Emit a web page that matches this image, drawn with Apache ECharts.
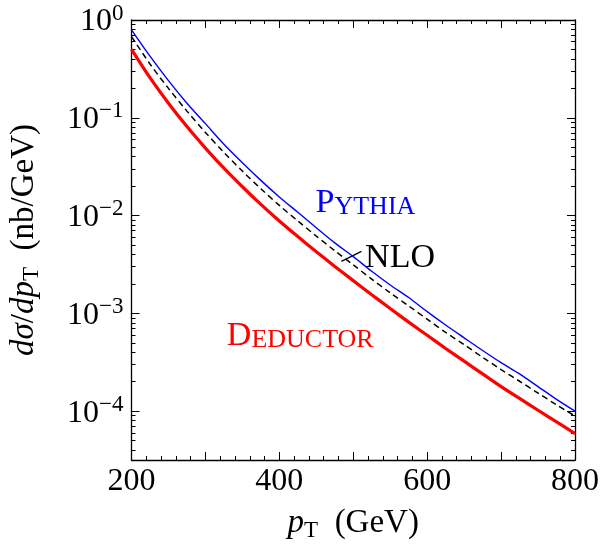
<!DOCTYPE html>
<html>
<head>
<meta charset="utf-8">
<script src="https://cdn.jsdelivr.net/npm/echarts@6/dist/echarts.min.js"></script>
<style>html,body{margin:0;padding:0;background:#fff}#c{width:603px;height:547px}</style>
</head>
<body>
<div id="c"></div>
<script>
// ---- data ----
var pT = [200,225,250,275,300,325,350,375,400,425,450,475,500,525,550,575,600,625,650,675,700,725,750,775,800];
var pythia = [0.794,0.427,0.240,0.141,0.0871,0.0537,0.0347,0.0229,0.0155,0.0108,0.00750,0.00525,0.00380,0.00269,0.00195,0.00145,0.00104,0.000759,0.000562,0.000417,0.000313,0.000240,0.000178,0.000132,0.000100];
var nlo = [0.676,0.355,0.200,0.117,0.0708,0.0442,0.0285,0.0188,0.0127,0.00881,0.00617,0.00437,0.00313,0.00224,0.00162,0.00119,0.000871,0.000638,0.000479,0.000355,0.000266,0.000202,0.000153,0.000116,0.0000891];
var deductor = [0.501,0.257,0.141,0.0813,0.0490,0.0305,0.0197,0.0130,0.00881,0.00610,0.00427,0.00302,0.00216,0.00155,0.00112,0.000813,0.000596,0.000437,0.000324,0.000240,0.000178,0.000135,0.000102,0.0000776,0.0000589];
var xTickLabels = [200,400,600,800];
var yMajor = [1e-4,1e-3,1e-2,1e-1,1];
var yMinor = [4e-5,5e-5,6e-5,7e-5,8e-5,9e-5,
  2e-4,3e-4,4e-4,5e-4,6e-4,7e-4,8e-4,9e-4,
  2e-3,3e-3,4e-3,5e-3,6e-3,7e-3,8e-3,9e-3,
  2e-2,3e-2,4e-2,5e-2,6e-2,7e-2,8e-2,9e-2,
  0.2,0.3,0.4,0.5,0.6,0.7,0.8,0.9];
// label anchors (left edge, vertical middle) in data coordinates
var labelPythia = [449, 0.0138];
var labelDeductor = [329, 0.00060];
var labelNLO = [516, 0.0037];
var nloPointer = [[484, 0.0034],[511, 0.0043]];

var FONT = '"Liberation Serif", "DejaVu Serif", serif';
var chart = echarts.init(document.getElementById('c'), null, {renderer:'canvas'});
function zip(x, y){ return x.map(function(v,i){return [v,y[i]];}); }
function sup(v){
  var e = Math.round(Math.log10(v));
  return '{b|10}{s|' + (e < 0 ? '\u2212' + (-e) : e) + '}';
}
var lineStyleAxis = {color:'#000', width:1.3};
var xBase = {
  type:'value', min:200, max:800, interval:100,
  axisLine:{show:true, lineStyle:lineStyleAxis, onZero:false},
  axisTick:{show:true, inside:true, length:8, lineStyle:{color:'#000', width:1}},
  minorTick:{show:true, splitNumber:5, length:4, lineStyle:{color:'#000', width:1}},
  splitLine:{show:false}
};
var yBase = {
  type:'log', logBase:10, min:Math.pow(10,-4.5), max:1,
  axisLine:{show:true, lineStyle:lineStyleAxis, onZero:false},
  splitLine:{show:false}, minorTick:{show:false}
};
var titleRich = {
  i:{fontFamily:FONT, fontStyle:'italic', fontSize:33, color:'#000', lineHeight:38},
  sub:{fontFamily:FONT, fontSize:23, color:'#000', verticalAlign:'bottom', lineHeight:26},
  r:{fontFamily:FONT, fontSize:33, color:'#000', lineHeight:38}
};
chart.setOption({
  animation:false,
  backgroundColor:'#fff',
  grid:{left:126, right:28, top:20, bottom:77, containLabel:false},
  xAxis:[
    Object.assign({}, xBase, {position:'bottom',
      name:'{i|p}{sub|T}{r|  (GeV)}', nameLocation:'middle', nameGap:44,
      nameTextStyle:{fontFamily:FONT, color:'#000', rich:titleRich},
      axisLabel:{show:true, customValues:xTickLabels, margin:6, fontFamily:FONT, fontSize:32, color:'#000'}}),
    Object.assign({}, xBase, {position:'top', axisLabel:{show:false}})
  ],
  yAxis:[
    Object.assign({}, yBase, {position:'left',
      name:'{i|d\u03C3}{r|/}{i|dp}{sub|T}{r|  (nb/GeV)}', nameLocation:'middle', nameGap:88, nameRotate:90,
      nameTextStyle:{fontFamily:FONT, color:'#000', rich:titleRich},
      axisTick:{show:true, inside:true, length:8, customValues:yMajor, lineStyle:{color:'#000', width:1}},
      axisLabel:{show:true, customValues:yMajor, margin:8, formatter:sup, rich:{
        b:{fontFamily:FONT, fontSize:32, color:'#000', lineHeight:36, verticalAlign:'bottom'},
        s:{fontFamily:FONT, fontSize:23, color:'#000', lineHeight:22, verticalAlign:'top'}}}}),
    Object.assign({}, yBase, {position:'left', axisLine:{show:false},
      axisTick:{show:true, inside:true, length:4, customValues:yMinor, lineStyle:{color:'#000', width:1}},
      axisLabel:{show:false}}),
    Object.assign({}, yBase, {position:'right',
      axisTick:{show:true, inside:true, length:8, customValues:yMajor, lineStyle:{color:'#000', width:1}},
      axisLabel:{show:false}}),
    Object.assign({}, yBase, {position:'right', axisLine:{show:false},
      axisTick:{show:true, inside:true, length:4, customValues:yMinor, lineStyle:{color:'#000', width:1}},
      axisLabel:{show:false}})
  ],
  series:[
    {name:'NLO', type:'line', data:zip(pT,nlo), showSymbol:false, smooth:0.3,
     lineStyle:{color:'#000', width:1.5, type:[6,4]}, z:3},
    {name:'Pythia', type:'line', data:zip(pT,pythia), showSymbol:false, smooth:0.3,
     lineStyle:{color:'#0000ff', width:1.4}, z:2},
    {name:'Deductor', type:'line', data:zip(pT,deductor), showSymbol:false, smooth:0.3,
     lineStyle:{color:'#ff0000', width:3.2}, z:4}
  ]
});
function px(p){ return chart.convertToPixel({xAxisIndex:0, yAxisIndex:0}, p); }
var pP = px(labelPythia), pD = px(labelDeductor), pN = px(labelNLO);
var l0 = px(nloPointer[0]), l1 = px(nloPointer[1]);
chart.setOption({graphic:[
  {type:'text', x:pP[0], y:pP[1], style:{text:'{a|P}{b|YTHIA}', verticalAlign:'middle',
    rich:{a:{fontFamily:FONT, fontSize:34, fill:'#0000ff', lineHeight:36, verticalAlign:'bottom'},
          b:{fontFamily:FONT, fontSize:26, fill:'#0000ff', lineHeight:30, verticalAlign:'bottom'}}}},
  {type:'text', x:pD[0], y:pD[1], style:{text:'{a|D}{b|EDUCTOR}', verticalAlign:'middle',
    rich:{a:{fontFamily:FONT, fontSize:34, fill:'#ff0000', lineHeight:36, verticalAlign:'bottom'},
          b:{fontFamily:FONT, fontSize:26, fill:'#ff0000', lineHeight:30, verticalAlign:'bottom'}}}},
  {type:'text', x:pN[0], y:pN[1], style:{text:'NLO', verticalAlign:'middle', fontFamily:FONT, fontSize:34, fill:'#000'}},
  {type:'line', shape:{x1:l0[0], y1:l0[1], x2:l1[0], y2:l1[1]}, style:{stroke:'#000', lineWidth:1.3}}
]});
</script>
</body>
</html>
